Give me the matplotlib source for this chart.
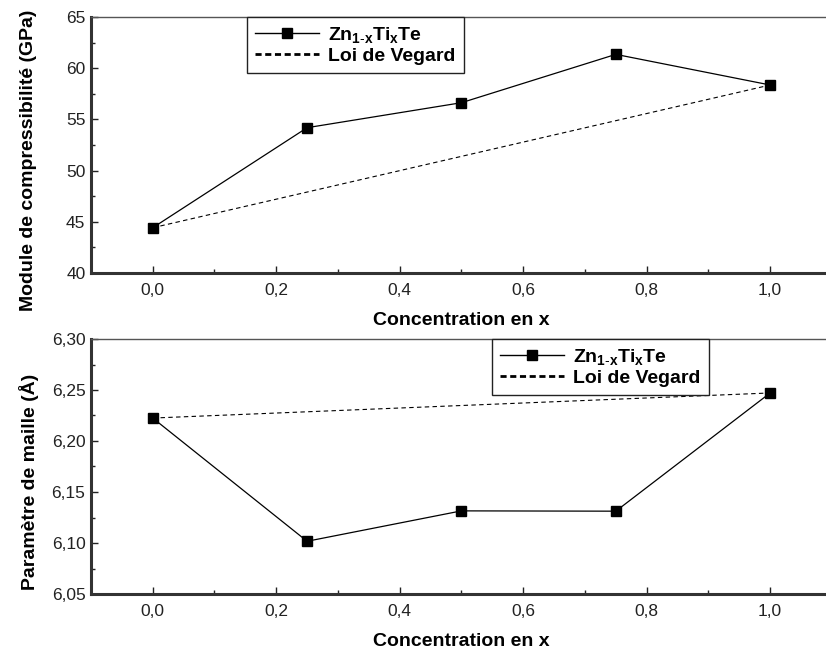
import matplotlib
matplotlib.use("Agg")
import matplotlib.pyplot as plt
from matplotlib.ticker import MultipleLocator, FuncFormatter
from matplotlib.lines import Line2D

plt.rcParams['font.family'] = ['Liberation Sans', 'DejaVu Sans']
plt.rcParams['mathtext.fontset'] = 'custom'
plt.rcParams['mathtext.rm'] = 'Liberation Sans'
plt.rcParams['mathtext.bf'] = 'Liberation Sans:bold'
plt.rcParams['mathtext.it'] = 'Liberation Sans:italic'

x = [0.0, 0.25, 0.5, 0.75, 1.0]
bulk = [44.42, 54.19, 56.63, 61.35, 58.36]
bulk_vegard_x = [0.0, 1.0]
bulk_vegard = [44.42, 58.36]
latt = [6.2225, 6.1017, 6.1315, 6.1312, 6.2471]
latt_vegard_x = [0.0, 1.0]
latt_vegard = [6.2225, 6.2471]

series_label = r"$\mathbf{Zn_{1\text{-}x}Ti_xTe}$"
vegard_label = "Loi de Vegard"
xlabel = "Concentration en x"
ylabel_top = "Module de compressibilité (GPa)"
ylabel_bot = "Paramètre de maille (Å)"

W, H = 826, 653
fig = plt.figure(figsize=(W/100, H/100), dpi=100)
left = 91/W
right_px = 151 + 1.1*619
width_px = right_px - 91
ax1 = fig.add_axes([left, 1-273/H, width_px/W, (273-17)/H])
ax2 = fig.add_axes([left, 1-594/H, width_px/W, (594-339)/H])

comma = FuncFormatter(lambda v, p: ("%.1f" % v).replace('.', ','))
comma2 = FuncFormatter(lambda v, p: ("%.2f" % v).replace('.', ','))
comma0 = FuncFormatter(lambda v, p: "%d" % round(v))

def style(ax, ylim, ymaj, ymin, yfmt, ylabel, lab_xy):
    ax.set_xlim(-0.1, 1.1)
    ax.set_ylim(*ylim)
    ax.xaxis.set_major_locator(MultipleLocator(0.2))
    ax.xaxis.set_minor_locator(MultipleLocator(0.1))
    ax.yaxis.set_major_locator(MultipleLocator(ymaj))
    ax.yaxis.set_minor_locator(MultipleLocator(ymin))
    ax.xaxis.set_major_formatter(comma)
    ax.yaxis.set_major_formatter(yfmt)
    ax.tick_params(which='both', direction='in', top=False, right=False,
                   labelsize=12.5, colors='#222222', width=1)
    ax.tick_params(which='major', length=5)
    ax.tick_params(which='minor', length=3)
    ax.tick_params(axis='x', pad=7)
    ax.tick_params(axis='y', pad=4)
    for s in ['left', 'bottom']:
        ax.spines[s].set_linewidth(2.2)
        ax.spines[s].set_color('#333333')
    ax.spines['top'].set_linewidth(1)
    ax.spines['top'].set_color('#555555')
    ax.spines['right'].set_visible(False)
    ax.set_xlabel(xlabel, fontsize=14, fontweight='bold', labelpad=10)
    ax.set_ylabel(ylabel, fontsize=14, fontweight='bold', va='center')
    ax.yaxis.set_label_coords(*lab_xy)

top_lab = ((29 - 91)/width_px, (273 - 160)/(273 - 17))
bot_lab = ((29 - 91)/width_px, (594 - 482)/(594 - 339))

ax1.plot(x, bulk, '-', color='black', lw=0.9, marker='s', ms=6.5, mfc='black', mec='black')
ax1.plot(bulk_vegard_x, bulk_vegard, color='black', lw=0.8, ls=(0, (4, 3)))
style(ax1, (40, 65), 5, 2.5, comma0, ylabel_top, top_lab)

ax2.plot(x, latt, '-', color='black', lw=0.9, marker='s', ms=6.5, mfc='black', mec='black')
ax2.plot(latt_vegard_x, latt_vegard, color='black', lw=0.8, ls=(0, (4, 3)))
style(ax2, (6.05, 6.30), 0.05, 0.025, comma2, ylabel_bot, bot_lab)

h1 = Line2D([], [], color='black', lw=1.0, marker='s', ms=7, mfc='black', mec='black')
h2 = Line2D([], [], color='black', lw=2.0, ls=(0, (2.2, 1.3)))

for ax, lx in [(ax1, 247), (ax2, 492)]:
    leg = ax.legend([h1, h2], [series_label, vegard_label], loc='upper left',
                    bbox_to_anchor=((lx - 91)/width_px, 1.0), frameon=True, fancybox=False,
                    edgecolor='#222222', framealpha=1, handlelength=3.3, handletextpad=0.45,
                    borderpad=0.42, labelspacing=0.12, borderaxespad=0,
                    prop={'weight': 'bold', 'size': 14})
    leg.get_frame().set_linewidth(1)

fig.savefig("out.png", dpi=100)
